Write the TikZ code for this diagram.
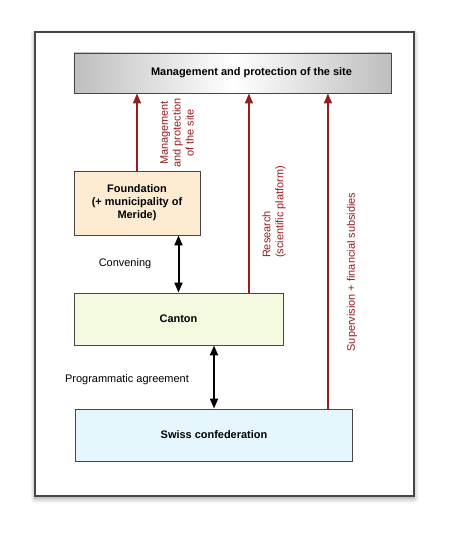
\documentclass[tikz,border=0pt]{standalone}
\usepackage{fontspec}
\setmainfont{Liberation Sans}
\usepackage{tikz}
\usetikzlibrary{calc}
\usetikzlibrary{arrows.meta, shadows.blur}

\definecolor{darkred}{RGB}{150,28,32}
\definecolor{boxline}{RGB}{70,70,70}
\definecolor{foundfill}{RGB}{253,236,210}
\definecolor{cantonfill}{RGB}{244,250,223}
\definecolor{swissfill}{RGB}{229,246,253}
\definecolor{edgegray}{RGB}{190,190,190}

\begin{document}
\begin{tikzpicture}[x=1bp, y=-1bp, font=\fontsize{11}{13}\selectfont, align=center,
    box/.style={draw=boxline, line width=0.9bp, inner sep=0pt},
    redarrow/.style={draw=darkred, line width=1.6bp, -{Triangle[length=10bp,width=8bp]}},
    blackarrow/.style={draw=black, line width=2bp, {Triangle[length=10bp,width=8bp]}-{Triangle[length=10bp,width=8bp]}},
    redlabel/.style={text=darkred, rotate=90, inner sep=0pt}]
  \useasboundingbox (0,0) rectangle (450,537);
  % frame
  \node[draw=boxline, line width=1.2bp, fill=white, minimum width=379bp, minimum height=464bp,
        blur shadow={shadow xshift=0bp, shadow yshift=-2.5bp, shadow blur radius=5bp, shadow blur steps=10, shadow opacity=40}]
        (frame) at (224.5,264) {};

  % boxes
  \node[box, minimum width=317bp, minimum height=40bp, left color=edgegray, right color=edgegray, middle color=white,
        label={[xshift=19bp, font=\fontsize{11}{13}\selectfont\bfseries]center:Management and protection of the site}]
        (top) at (232.5,73) {};
  \node[box, fill=foundfill, minimum width=126bp, minimum height=64bp, font=\fontsize{11}{13}\selectfont\bfseries]
        (found) at (137,203) {Foundation\\(+ municipality of\\Meride)};
  \node[box, fill=cantonfill, minimum width=209bp, minimum height=52bp, font=\fontsize{11}{13}\selectfont\bfseries]
        (canton) at (178.5,319) {Canton};
  \node[box, fill=swissfill, minimum width=277bp, minimum height=52bp, font=\fontsize{11}{13}\selectfont\bfseries]
        (swiss) at (214,435) {Swiss confederation};

  % red arrows
  \draw[redarrow] (found.north) -- (found.north |- top.south);
  \draw[redarrow] ([xshift=-34.5bp]canton.north east) -- ([xshift=-34.5bp]canton.north east |- top.south);
  \draw[redarrow] ([xshift=-25bp]swiss.north east) -- ([xshift=-25bp]swiss.north east |- top.south);

  \node[redlabel] (lmgmt) at (177,133) {Management\\and protection\\of the site};
  \node[redlabel, align=left] (lres) at (274,212) {Research\\(scientific platform)};
  \node[redlabel] (lsup) at (352,272) {Supervision + financial subsidies};

  % black arrows
  \draw[blackarrow] (canton.north |- found.south) -- (canton.north);
  \draw[blackarrow] (swiss.north |- canton.south) -- (swiss.north);

  \node (lconv) at (125,264) {Convening};
  \node (lprog) at (127,380) {Programmatic agreement};
\end{tikzpicture}
\end{document}
